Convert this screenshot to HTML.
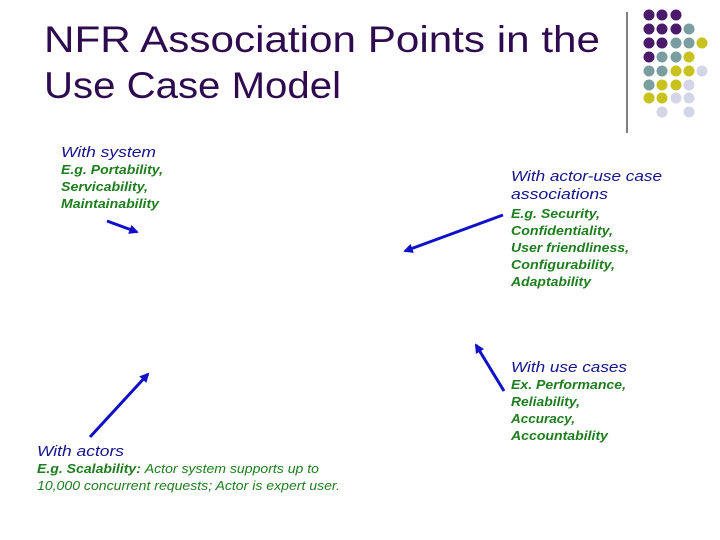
<!DOCTYPE html>
<html><head><meta charset="utf-8"><style>
html,body{margin:0;padding:0;background:#fff;}
svg{display:block;}
.t{font-family:"Liberation Sans",sans-serif;fill:#2e0a4f;font-size:37px;}
.h{font-family:"Liberation Sans",sans-serif;fill:#14148c;font-size:15px;font-style:italic;}
.g{font-family:"Liberation Sans",sans-serif;fill:#1e7d1e;font-size:13px;font-style:italic;font-weight:bold;}
.n{font-weight:normal;}
</style></head><body>
<svg width="720" height="540" viewBox="0 0 720 540" xmlns="http://www.w3.org/2000/svg">
<defs><marker id="a" viewBox="0 0 10 10" refX="8" refY="5" markerWidth="3.2" markerHeight="3.2" orient="auto"><path d="M0,0 L10,5 L0,10 z" fill="#1010c8"/></marker></defs>
<text class="t" x="44" y="52" textLength="556" lengthAdjust="spacingAndGlyphs">NFR Association Points in the</text>
<text class="t" x="44" y="98" textLength="297" lengthAdjust="spacingAndGlyphs">Use Case Model</text>
<line x1="627" y1="12" x2="627" y2="133" stroke="#000" stroke-width="1"/>
<text class="h" x="61" y="157" textLength="95" lengthAdjust="spacingAndGlyphs">With system</text>
<text class="g" x="61" y="174" textLength="102" lengthAdjust="spacingAndGlyphs">E.g. Portability,</text>
<text class="g" x="61" y="191" textLength="87" lengthAdjust="spacingAndGlyphs">Servicability,</text>
<text class="g" x="61" y="208" textLength="98" lengthAdjust="spacingAndGlyphs">Maintainability</text>
<text class="h" x="511" y="181" textLength="151" lengthAdjust="spacingAndGlyphs">With actor-use case</text>
<text class="h" x="511" y="199" textLength="97" lengthAdjust="spacingAndGlyphs">associations</text>
<text class="g" x="511" y="218" textLength="89" lengthAdjust="spacingAndGlyphs">E.g. Security,</text>
<text class="g" x="511" y="235" textLength="102" lengthAdjust="spacingAndGlyphs">Confidentiality,</text>
<text class="g" x="511" y="252" textLength="118" lengthAdjust="spacingAndGlyphs">User friendliness,</text>
<text class="g" x="511" y="269" textLength="104" lengthAdjust="spacingAndGlyphs">Configurability,</text>
<text class="g" x="511" y="286" textLength="80" lengthAdjust="spacingAndGlyphs">Adaptability</text>
<text class="h" x="511" y="372" textLength="116" lengthAdjust="spacingAndGlyphs">With use cases</text>
<text class="g" x="511" y="389" textLength="115" lengthAdjust="spacingAndGlyphs">Ex. Performance,</text>
<text class="g" x="511" y="406" textLength="69" lengthAdjust="spacingAndGlyphs">Reliability,</text>
<text class="g" x="511" y="423" textLength="64" lengthAdjust="spacingAndGlyphs">Accuracy,</text>
<text class="g" x="511" y="440" textLength="97" lengthAdjust="spacingAndGlyphs">Accountability</text>
<text class="h" x="37" y="456" textLength="87" lengthAdjust="spacingAndGlyphs">With actors</text>
<text class="g" x="37" y="473" textLength="282" lengthAdjust="spacingAndGlyphs">E.g. Scalability: <tspan class="n">Actor system supports up to</tspan></text>
<text class="g n" x="37" y="490" textLength="303" lengthAdjust="spacingAndGlyphs">10,000 concurrent requests; Actor is expert user.</text>
<g stroke="#1010c8" stroke-width="3" marker-end="url(#a)" fill="none">
<line x1="107" y1="221" x2="137" y2="232"/>
<line x1="503" y1="215" x2="405" y2="251"/>
<line x1="504" y1="391" x2="476" y2="345"/>
<line x1="90" y1="437" x2="148" y2="374"/>
</g>
<g>
<circle cx="649" cy="15" r="5.5" fill="#4b1a6b"/><circle cx="662" cy="15" r="5.5" fill="#4b1a6b"/><circle cx="676" cy="15" r="5.5" fill="#4b1a6b"/>
<circle cx="649" cy="29" r="5.5" fill="#4b1a6b"/><circle cx="662" cy="29" r="5.5" fill="#4b1a6b"/><circle cx="676" cy="29" r="5.5" fill="#4b1a6b"/><circle cx="689" cy="29" r="5.5" fill="#7a9e9f"/>
<circle cx="649" cy="43" r="5.5" fill="#4b1a6b"/><circle cx="662" cy="43" r="5.5" fill="#4b1a6b"/><circle cx="676" cy="43" r="5.5" fill="#7a9e9f"/><circle cx="689" cy="43" r="5.5" fill="#7a9e9f"/><circle cx="702" cy="43" r="5.5" fill="#c8c21e"/>
<circle cx="649" cy="57" r="5.5" fill="#4b1a6b"/><circle cx="662" cy="57" r="5.5" fill="#7a9e9f"/><circle cx="676" cy="57" r="5.5" fill="#7a9e9f"/><circle cx="689" cy="57" r="5.5" fill="#c8c21e"/>
<circle cx="649" cy="71" r="5.5" fill="#7a9e9f"/><circle cx="662" cy="71" r="5.5" fill="#7a9e9f"/><circle cx="676" cy="71" r="5.5" fill="#c8c21e"/><circle cx="689" cy="71" r="5.5" fill="#c8c21e"/><circle cx="702" cy="71" r="5.5" fill="#d5d5e8"/>
<circle cx="649" cy="85" r="5.5" fill="#7a9e9f"/><circle cx="662" cy="85" r="5.5" fill="#c8c21e"/><circle cx="676" cy="85" r="5.5" fill="#c8c21e"/><circle cx="689" cy="85" r="5.5" fill="#d5d5e8"/>
<circle cx="649" cy="98" r="5.5" fill="#c8c21e"/><circle cx="662" cy="98" r="5.5" fill="#c8c21e"/><circle cx="676" cy="98" r="5.5" fill="#d5d5e8"/><circle cx="689" cy="98" r="5.5" fill="#d5d5e8"/>
<circle cx="662" cy="112" r="5.5" fill="#d5d5e8"/><circle cx="689" cy="112" r="5.5" fill="#d5d5e8"/>
</g>
</svg>
</body></html>
